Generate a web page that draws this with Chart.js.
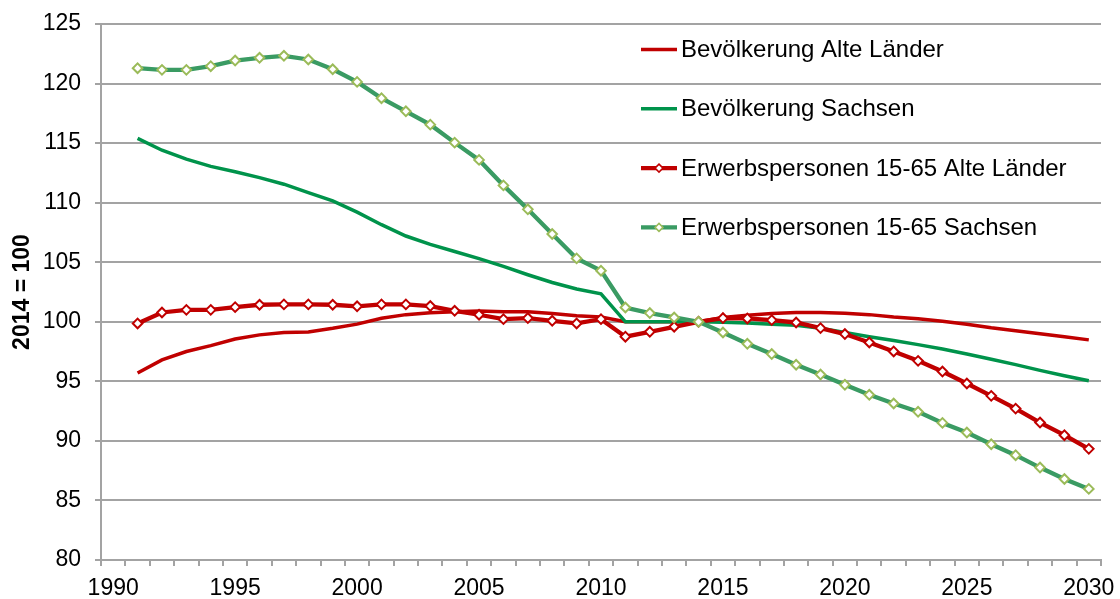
<!DOCTYPE html>
<html>
<head>
<meta charset="utf-8">
<script src="https://cdn.jsdelivr.net/npm/chart.js@4.4.1/dist/chart.umd.min.js"></script>
<style>
  html, body { margin: 0; padding: 0; background: #ffffff; }
  #wrap { width: 1120px; height: 599px; }
</style>
</head>
<body>
<div id="wrap"><canvas id="c" width="1120" height="599"></canvas></div>
<script>
const years = ['1990','1991','1992','1993','1994','1995','1996','1997','1998','1999',
  '2000','2001','2002','2003','2004','2005','2006','2007','2008','2009',
  '2010','2011','2012','2013','2014','2015','2016','2017','2018','2019',
  '2020','2021','2022','2023','2024','2025','2026','2027','2028','2029','2030'];

const seriesNames = ['Bevölkerung Alte Länder', 'Bevölkerung Sachsen',
  'Erwerbspersonen 15-65 Alte Länder', 'Erwerbspersonen 15-65 Sachsen'];

const bevAlteLaender = [null, 95.7, 96.8, 97.5, 98.0, 98.55, 98.9, 99.1, 99.15, 99.45,
  99.8, 100.3, 100.6, 100.75, 100.85, 100.9, 100.85, 100.85, 100.7, 100.5,
  100.4, 100.0, 100.0, 100.0, 100.0, 100.35, 100.55, 100.7, 100.78, 100.78,
  100.72, 100.6, 100.4, 100.25, 100.05, 99.8, 99.5, 99.25, 99.0, 98.75, 98.48];

const bevSachsen = [null, 115.4, 114.4, 113.65, 113.05, 112.6, 112.1, 111.55, 110.85, 110.15,
  109.2, 108.15, 107.2, 106.5, 105.9, 105.3, 104.65, 103.95, 103.3, 102.75,
  102.35, 100.0, 100.0, 100.0, 100.0, 99.95, 99.9, 99.8, 99.7, 99.45,
  99.1, 98.75, 98.42, 98.08, 97.72, 97.3, 96.85, 96.4, 95.92, 95.47, 95.05];

const erwAlteLaender = [null, 99.86, 100.78, 101.0, 101.0, 101.23, 101.43, 101.46, 101.46, 101.43,
  101.3, 101.46, 101.46, 101.32, 100.92, 100.59, 100.22, 100.31, 100.08, 99.86,
  100.22, 98.75, 99.16, 99.58, 100.0, 100.31, 100.28, 100.14, 99.94, 99.47,
  98.97, 98.26, 97.51, 96.72, 95.82, 94.82, 93.78, 92.71, 91.54, 90.48, 89.33];

const erwSachsen = [null, 121.29, 121.15, 121.15, 121.46, 121.93, 122.16, 122.33, 122.02, 121.2,
  120.14, 118.77, 117.67, 116.55, 115.04, 113.59, 111.45, 109.44, 107.37, 105.32,
  104.29, 101.2, 100.73, 100.36, 100.0, 99.1, 98.15, 97.29, 96.39, 95.57,
  94.71, 93.87, 93.14, 92.44, 91.51, 90.7, 89.72, 88.8, 87.76, 86.8, 85.97];

const yMin = 80, yMax = 125, yStep = 5;
const yTitle = '2014 = 100';

const RED = '#C00000';
const GREEN = '#00934B';
const GREEN2 = '#3A9B63';
const OLIVE = '#9BBB59';
const GRID = '#a3a3a3';
const FONT = "'Liberation Sans', Arial, sans-serif";

const legendPlugin = {
  id: 'customLegend',
  afterDraw(chart) {
    const ctx = chart.ctx;
    const ca = chart.chartArea;
    const x0 = ca.left + 540;
    const x1 = x0 + 36;
    ctx.save();
    chart.data.datasets.forEach((ds, i) => {
      const y = ca.top + 25.5 + i * 59.3;
      ctx.beginPath();
      ctx.strokeStyle = ds.borderColor;
      ctx.lineWidth = ds.borderWidth;
      ctx.lineCap = 'butt';
      ctx.moveTo(x0, y);
      ctx.lineTo(x1, y);
      ctx.stroke();
      if (ds.pointRadius > 0) {
        const cx = (x0 + x1) / 2, r = 4;
        ctx.beginPath();
        ctx.moveTo(cx, y - r);
        ctx.lineTo(cx + r, y);
        ctx.lineTo(cx, y + r);
        ctx.lineTo(cx - r, y);
        ctx.closePath();
        ctx.fillStyle = '#ffffff';
        ctx.fill();
        ctx.lineWidth = 1.5;
        ctx.strokeStyle = ds.pointBorderColor;
        ctx.stroke();
      }
      ctx.fillStyle = '#000000';
      ctx.font = '24px ' + FONT;
      ctx.textAlign = 'left';
      ctx.textBaseline = 'middle';
      ctx.fillText(ds.label, x1 + 4, y + 1);
    });
    ctx.restore();
  }
};

new Chart(document.getElementById('c'), {
  type: 'line',
  data: {
    labels: years,
    datasets: [
      { label: seriesNames[0], data: bevAlteLaender, borderColor: RED, backgroundColor: RED,
        borderWidth: 3.5, pointRadius: 0, tension: 0, order: 4 },
      { label: seriesNames[1], data: bevSachsen, borderColor: GREEN, backgroundColor: GREEN,
        borderWidth: 3.5, pointRadius: 0, tension: 0, order: 3 },
      { label: seriesNames[2], data: erwAlteLaender, borderColor: RED, backgroundColor: RED,
        borderWidth: 4.3, pointRadius: 4.8, pointStyle: 'rectRot', pointBorderColor: RED,
        pointBackgroundColor: '#ffffff', pointBorderWidth: 2, tension: 0, order: 2 },
      { label: seriesNames[3], data: erwSachsen, borderColor: GREEN2, backgroundColor: GREEN2,
        borderWidth: 4.3, pointRadius: 4.8, pointStyle: 'rectRot', pointBorderColor: OLIVE,
        pointBackgroundColor: '#ffffff', pointBorderWidth: 2, tension: 0, order: 1 }
    ]
  },
  options: {
    responsive: false,
    devicePixelRatio: 1,
    animation: false,
    layout: { padding: { top: 24, right: 19, bottom: 0, left: 0 } },
    plugins: { legend: { display: false }, tooltip: { enabled: false } },
    scales: {
      x: {
        type: 'category',
        offset: true,
        afterFit: (s) => { s.height = 39; s.paddingLeft = 0; s.paddingRight = 0; },
        grid: { offset: true, drawOnChartArea: false, drawTicks: true, tickLength: 6,
                color: GRID, lineWidth: 2 },
        border: { color: GRID, width: 2 },
        ticks: {
          autoSkip: false, maxRotation: 0, minRotation: 0, padding: 9,
          color: '#000000', font: { family: FONT, size: 23 },
          callback: function(v, i) { const l = years[i]; return (+l % 5 === 0) ? l : ''; }
        }
      },
      y: {
        min: yMin, max: yMax,
        afterFit: (s) => { s.width = 101; s.paddingTop = 0; s.paddingBottom = 0; },
        grid: { color: GRID, lineWidth: 2, tickLength: 6 },
        border: { color: GRID, width: 2 },
        ticks: { stepSize: yStep, padding: 14, color: '#000000', font: { family: FONT, size: 23 } },
        title: { display: true, text: yTitle, color: '#000000',
                 font: { family: FONT, size: 23, weight: 'bold' }, padding: { top: 9, bottom: 0 } }
      }
    }
  },
  plugins: [legendPlugin]
});
</script>
</body>
</html>
